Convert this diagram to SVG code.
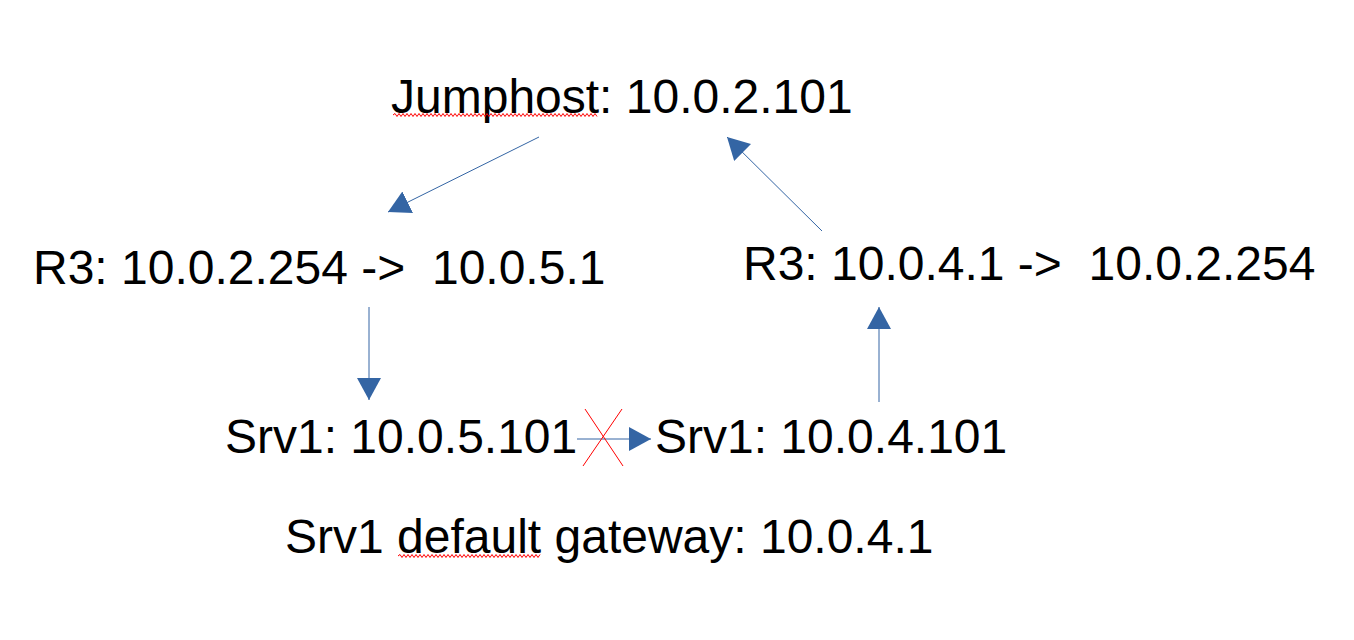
<svg xmlns="http://www.w3.org/2000/svg" width="1354" height="640" viewBox="0 0 1354 640">
  <style>
    .lbl { font-family: "Liberation Sans", Arial, sans-serif; font-size: 48px; fill: #000000; white-space: pre; }
    .conn { stroke: #3465a4; stroke-width: 1; fill: none; marker-end: url(#ah); }
    .sq { stroke: #ff0000; stroke-width: 1; fill: none; }
    .cross { stroke: #ff0000; stroke-width: 1; fill: none; }
  </style>
  <defs>
    <marker id="ah" viewBox="0 0 22 24" refX="22" refY="12" markerWidth="22" markerHeight="24" orient="auto" markerUnits="userSpaceOnUse">
      <path d="M0,0 L22,12 L0,24 z" fill="#3465a4"/>
    </marker>
  </defs>
  <rect width="1354" height="640" fill="#ffffff"/>

  <g id="connectors">
    <line class="conn" x1="539" y1="137" x2="388" y2="212"/>
    <line class="conn" x1="822" y1="231" x2="727" y2="137"/>
    <line class="conn" x1="369" y1="307" x2="369" y2="400"/>
    <line class="conn" x1="879" y1="402" x2="879" y2="307"/>
    <line class="conn" x1="577" y1="439" x2="651" y2="439"/>
    <g id="blocked-mark">
      <line class="cross" x1="585" y1="409" x2="623" y2="466"/>
      <line class="cross" x1="622" y1="409" x2="583" y2="466"/>
    </g>
  </g>

  <g id="jumphost">
    <text class="lbl" x="391" y="113">Jumphost: 10.0.2.101</text>
    <path class="sq" d="M393,115 l2,-1.5
      l2,3 l2,-3 l2,3 l2,-3 l2,3 l2,-3 l2,3 l2,-3 l2,3 l2,-3 l2,3 l2,-3 l2,3 l2,-3 l2,3 l2,-3 l2,3 l2,-3 l2,3 l2,-3
      l2,3 l2,-3 l2,3 l2,-3 l2,3 l2,-3 l2,3 l2,-3 l2,3 l2,-3 l2,3 l2,-3 l2,3 l2,-3 l2,3 l2,-3 l2,3 l2,-3 l2,3 l2,-3
      l2,3 l2,-3 l2,3 l2,-3 l2,3 l2,-3 l2,3 l2,-3 l2,3 l2,-3 l2,3 l2,-3 l2,3 l2,-3 l2,3 l2,-3 l2,3 l2,-3 l2,3 l2,-3
      l2,3 l2,-3 l2,3 l2,-3 l2,3 l2,-3 l2,3 l2,-3 l2,3 l2,-3 l2,3 l2,-3 l2,3 l2,-3 l2,3 l2,-3 l2,3 l2,-3 l2,3 l2,-3
      l2,3 l2,-3 l2,3 l2,-3 l2,3 l2,-3 l2,3 l2,-3 l2,3 l2,-3 l2,3 l2,-3 l2,3 l2,-3 l2,3 l2,-3 l2,3 l2,-3 l2,3 l2,-3
      l2,3"/>
  </g>

  <g id="r3-left">
    <text class="lbl" x="33" y="284">R3: 10.0.2.254 -&gt;  10.0.5.1</text>
  </g>

  <g id="r3-right">
    <text class="lbl" x="743" y="280">R3: 10.0.4.1 -&gt;  10.0.2.254</text>
  </g>

  <g id="srv1-left">
    <text class="lbl" x="225" y="453">Srv1: 10.0.5.101</text>
  </g>

  <g id="srv1-right">
    <text class="lbl" x="655" y="453">Srv1: 10.0.4.101</text>
  </g>

  <g id="gateway-note">
    <text class="lbl" x="285" y="553">Srv1 default gateway: 10.0.4.1</text>
    <path class="sq" d="M398,556 l2,-1.5
      l2,3 l2,-3 l2,3 l2,-3 l2,3 l2,-3 l2,3 l2,-3 l2,3 l2,-3 l2,3 l2,-3 l2,3 l2,-3 l2,3 l2,-3 l2,3 l2,-3 l2,3 l2,-3
      l2,3 l2,-3 l2,3 l2,-3 l2,3 l2,-3 l2,3 l2,-3 l2,3 l2,-3 l2,3 l2,-3 l2,3 l2,-3 l2,3 l2,-3 l2,3 l2,-3 l2,3 l2,-3
      l2,3 l2,-3 l2,3 l2,-3 l2,3 l2,-3 l2,3 l2,-3 l2,3 l2,-3 l2,3 l2,-3 l2,3 l2,-3 l2,3 l2,-3 l2,3 l2,-3 l2,3 l2,-3
      l2,3 l2,-3 l2,3 l2,-3 l2,3 l2,-3 l2,3 l2,-3 l2,3 l2,-3"/>
  </g>
</svg>
